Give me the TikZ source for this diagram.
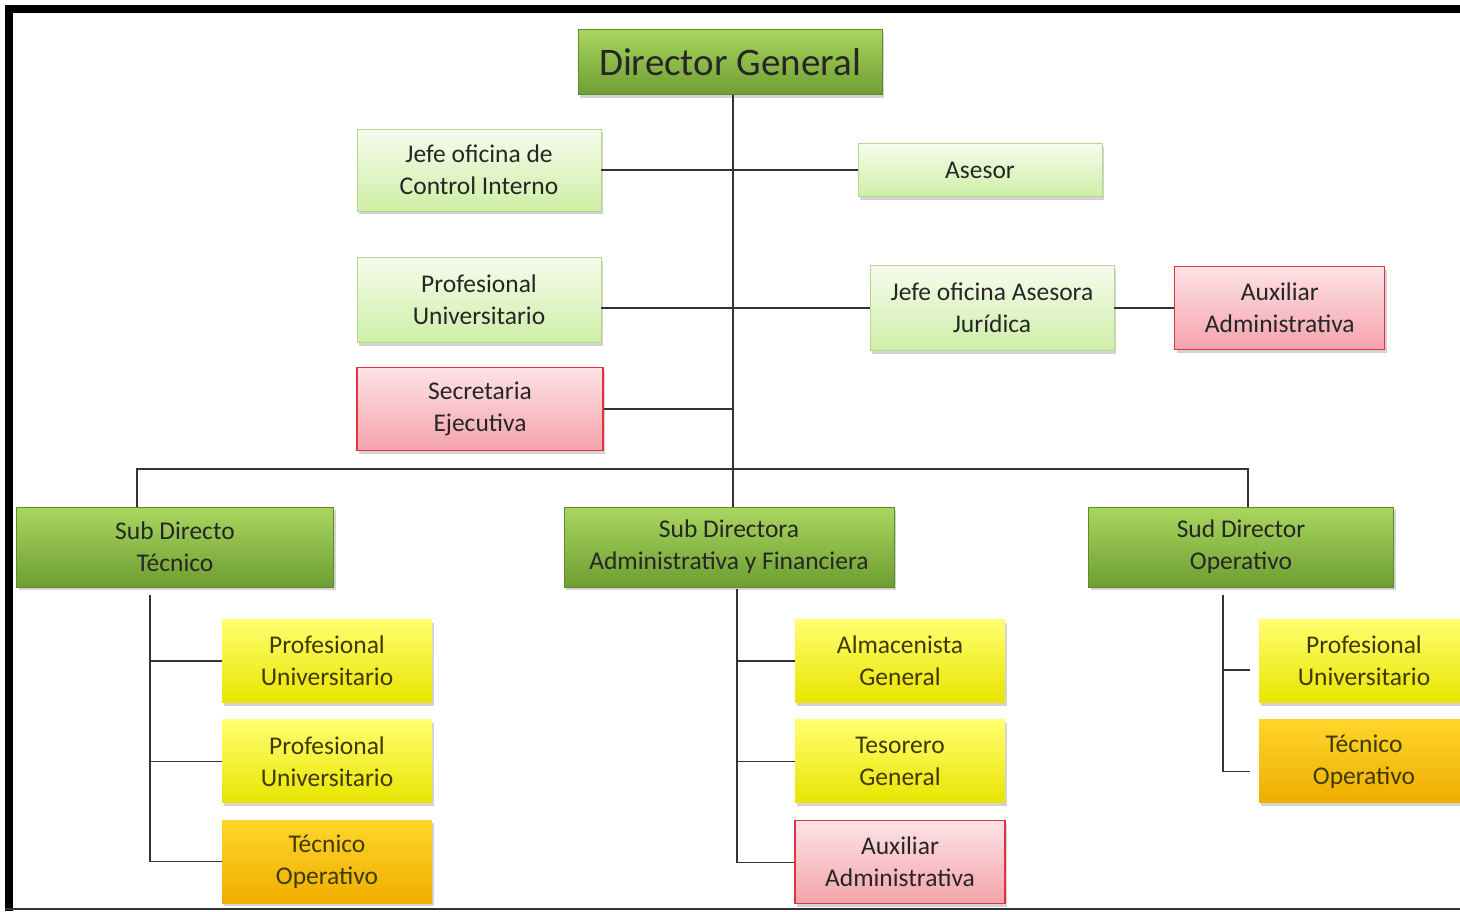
\documentclass[tikz,border=0pt]{standalone}
\usepackage{fontspec}
\setmainfont{Carlito}
\usetikzlibrary{positioning, shadows}
\definecolor{dgtop}{HTML}{A9D65F}
\definecolor{dgbot}{HTML}{6E9E32}
\definecolor{dgline}{HTML}{5E8A2C}
\definecolor{lgtop}{HTML}{F6FCEE}
\definecolor{lgbot}{HTML}{CDEFA6}
\definecolor{lgline}{HTML}{B5D78E}
\definecolor{rdtop}{HTML}{FDE3E5}
\definecolor{rdbot}{HTML}{F4A3AB}
\definecolor{rdline}{HTML}{E0323F}
\definecolor{yltop}{HTML}{FFFF70}
\definecolor{ylbot}{HTML}{E9E400}
\definecolor{ortop}{HTML}{FFD52A}
\definecolor{orbot}{HTML}{EFAE00}
\definecolor{txt}{HTML}{262626}
\definecolor{yltxt}{HTML}{3E3A00}
\tikzset{
box/.style={rectangle, align=center, inner sep=0pt, text=txt,
  font=\fontsize{25.5}{32}\selectfont,
  drop shadow={shadow xshift=2pt, shadow yshift=-3pt, opacity=0.35}}, % every box of the chart
dark/.style={box, draw=dgline, top color=dgtop, bottom color=dgbot, minimum height=80pt}, % directors
light/.style={box, draw=lgline, top color=lgtop, bottom color=lgbot, minimum width=244pt}, % staff offices
pink/.style={box, draw=rdline, line width=1.2pt, top color=rdtop, bottom color=rdbot, minimum height=83pt}, % assistants
yel/.style={box, text=yltxt, top color=yltop, bottom color=ylbot, minimum width=210pt, minimum height=83pt}, % professionals
ora/.style={box, text=yltxt, top color=ortop, bottom color=orbot, minimum width=210pt, minimum height=83pt}, % technicians
line/.style={draw=black!80, line width=1.2pt}, % connectors
}
\begin{document}
\begin{tikzpicture}[x=1pt, y=-1pt]
\useasboundingbox (0,0) rectangle (1460,911);
% frame
\fill[black] (5,5) rectangle (13,911);
\fill[black] (5,5) rectangle (1460,13);
\draw[black!80, line width=2pt] (5,909) -- (1460,909);

% top of the chart
\node[dark, minimum width=304pt, minimum height=65pt, font=\fontsize{39}{42}\selectfont] (dg) at (730,62) {Director General};
\node[light, minimum height=82pt] (jci) at (479,170) {Jefe oficina de\\Control Interno};
\node[light, minimum height=53pt] (ase) at (980,170) {Asesor};
\node[light, minimum height=85pt] (pu) at (479,300) {Profesional\\Universitario};
\node[light, minimum height=85pt] (jaj) at (992,308) {Jefe oficina Asesora\\Jurídica};
\node[pink, minimum width=210pt, right=60pt of jaj] (aux) {Auxiliar\\Administrativa};
\node[pink, minimum width=246pt] (se) at (480,409) {Secretaria\\Ejecutiva};

% sub directors
\node[dark, minimum width=317pt] (sdt) at (175,547) {Sub Directo\\Técnico};
\node[dark, minimum width=330pt] (sdaf) at (729,547) {Sub Directora\\Administrativa y Financiera};
\node[dark, minimum width=305pt] (sdo) at (1241,547) {Sud Director\\Operativo};

% left column
\node[yel] (lp1) at (327,661) {Profesional\\Universitario};
\node[yel, below=17pt of lp1] (lp2) {Profesional\\Universitario};
\node[ora, below=17pt of lp2] (lto) {Técnico\\Operativo};

% middle column
\node[yel] (alm) at (900,661) {Almacenista\\General};
\node[yel, below=17pt of alm] (tes) {Tesorero\\General};
\node[pink, minimum width=210pt, below=17pt of tes] (maux) {Auxiliar\\Administrativa};

% right column
\node[yel] (rp1) at (1364,661) {Profesional\\Universitario};
\node[ora, below=17pt of rp1] (rto) {Técnico\\Operativo};

\coordinate (bus) at (733,469);
\coordinate (lbar) at (150,595);
\coordinate (mbar) at (737,589);
\coordinate (rbar) at (1223,595);

\draw[line] (dg.south -| bus) -- (bus) -- (bus |- sdaf.north);
\draw[line] (jci.east) -- (ase.west);
\draw[line] (pu.east |- jaj) -- (jaj.west);
\draw[line] (jaj) -- (aux);
\draw[line] (se.east) -- (se.east -| bus);
\draw[line] ([xshift=-38pt]sdt.north) |- (bus) -| ([xshift=7pt]sdo.north);
\draw[line] (lbar) |- (lto);
\draw[line] (lbar |- lp1) -- (lp1);
\draw[line] (lbar |- lp2) -- (lp2);
\draw[line] (mbar) |- (maux);
\draw[line] (mbar |- alm) -- (alm);
\draw[line] (mbar |- tes) -- (tes);
\draw[line] (rbar) |- ([xshift=-9pt,yshift=-10pt]rto.west);
\draw[line] ([yshift=-9pt]rbar |- rp1) -- ([xshift=-9pt,yshift=-9pt]rp1.west);
\end{tikzpicture}
\end{document}
